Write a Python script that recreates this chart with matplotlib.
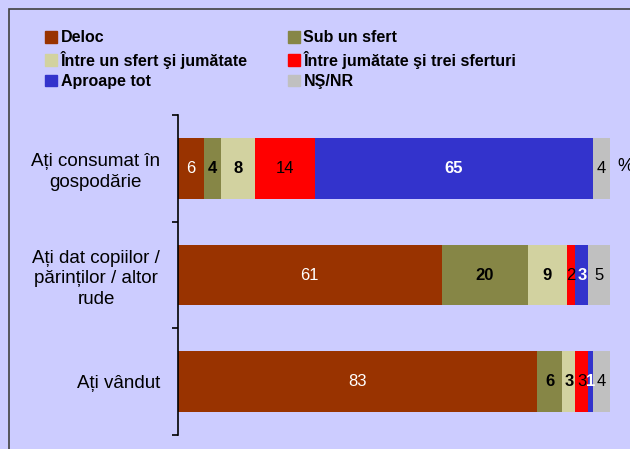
import matplotlib.pyplot as plt
import matplotlib.patches as mpatches
import numpy as np

plt.rcParams['font.family'] = ['Liberation Sans', 'DejaVu Sans']

categories = ["Ați consumat în\ngospodărie",
              "Ați dat copiilor /\npărinților / altor\nrude",
              "Ați vândut"]
series = ["Deloc", "Sub un sfert", "Între un sfert şi jumătate",
          "Între jumătate şi trei sferturi", "Aproape tot", "NŞ/NR"]
deloc = [6, 61, 83]
sub_sfert = [4, 20, 6]
sfert_jum = [8, 9, 3]
jum_trei = [14, 2, 3]
aproape = [65, 3, 1]
ns_nr = [4, 5, 4]

colors = ["#993300", "#868646", "#D2D2A0", "#FF0000", "#3333CC", "#C0C0C0"]
txt_colors = ["white", "black", "black", "black", "white", "black"]
txt_weights = ["normal", "bold", "bold", "normal", "bold", "normal"]
bg = "#CCCCFF"


def main():
    data = np.array([deloc, sub_sfert, sfert_jum, jum_trei, aproape, ns_nr], dtype=float)
    share = data / data.sum(axis=0) * 100

    fig = plt.figure(figsize=(6.3, 4.49), dpi=100, facecolor=bg)
    ax = fig.add_axes([178 / 630, 1 - 435 / 449, 432 / 630, 320 / 449])
    ax.set_facecolor(bg)

    y = np.arange(len(categories))
    left = np.zeros(len(categories))
    for i, name in enumerate(series):
        ax.barh(y, share[i], left=left, height=0.57, color=colors[i],
                label=name, linewidth=0)
        for j in range(len(categories)):
            ax.text(left[j] + share[i][j] / 2, y[j], f"{int(data[i][j])}",
                    ha="center", va="center", fontsize=12,
                    color=txt_colors[i], fontweight=txt_weights[i])
        left += share[i]

    ax.text(101.8, -0.02, "%", ha="left", va="center", fontsize=13)

    ax.set_xlim(0, 100)
    ax.set_ylim(2.5, -0.5)
    for s in ["top", "right", "bottom"]:
        ax.spines[s].set_visible(False)
    ax.spines["left"].set_linewidth(1.2)
    ax.set_xticks([])
    ax.set_yticks(y)
    ax.set_yticklabels(categories, fontsize=13.5, ha="right", multialignment="center",
                       linespacing=1.3)
    ax.tick_params(axis="y", which="major", length=0, pad=13)
    ax.set_yticks([-0.5, 0.5, 1.5, 2.5], minor=True)
    ax.tick_params(axis="y", which="minor", length=4, width=1.2)

    # legend is filled row by row in the original
    order = [0, 2, 4, 1, 3, 5]
    handles = [mpatches.Patch(color=colors[k]) for k in order]
    labels = [series[k] for k in order]
    fig.legend(handles, labels, loc="upper left", bbox_to_anchor=(39 / 630, 1 - 24 / 449),
               ncol=2, frameon=False, prop={"weight": "bold", "size": 11.5},
               handlelength=0.75, handleheight=0.75, handletextpad=0.2,
               columnspacing=2.55, labelspacing=0.33, borderaxespad=0)

    frame = mpatches.Rectangle((9 / 630, -0.1), 1.1, 1.1 - 9 / 449,
                               transform=fig.transFigure, fill=False,
                               edgecolor="#404040", linewidth=1.2)
    fig.patches.append(frame)

    fig.savefig("out.png", dpi=100, facecolor=bg)


if __name__ == "__main__":
    main()
